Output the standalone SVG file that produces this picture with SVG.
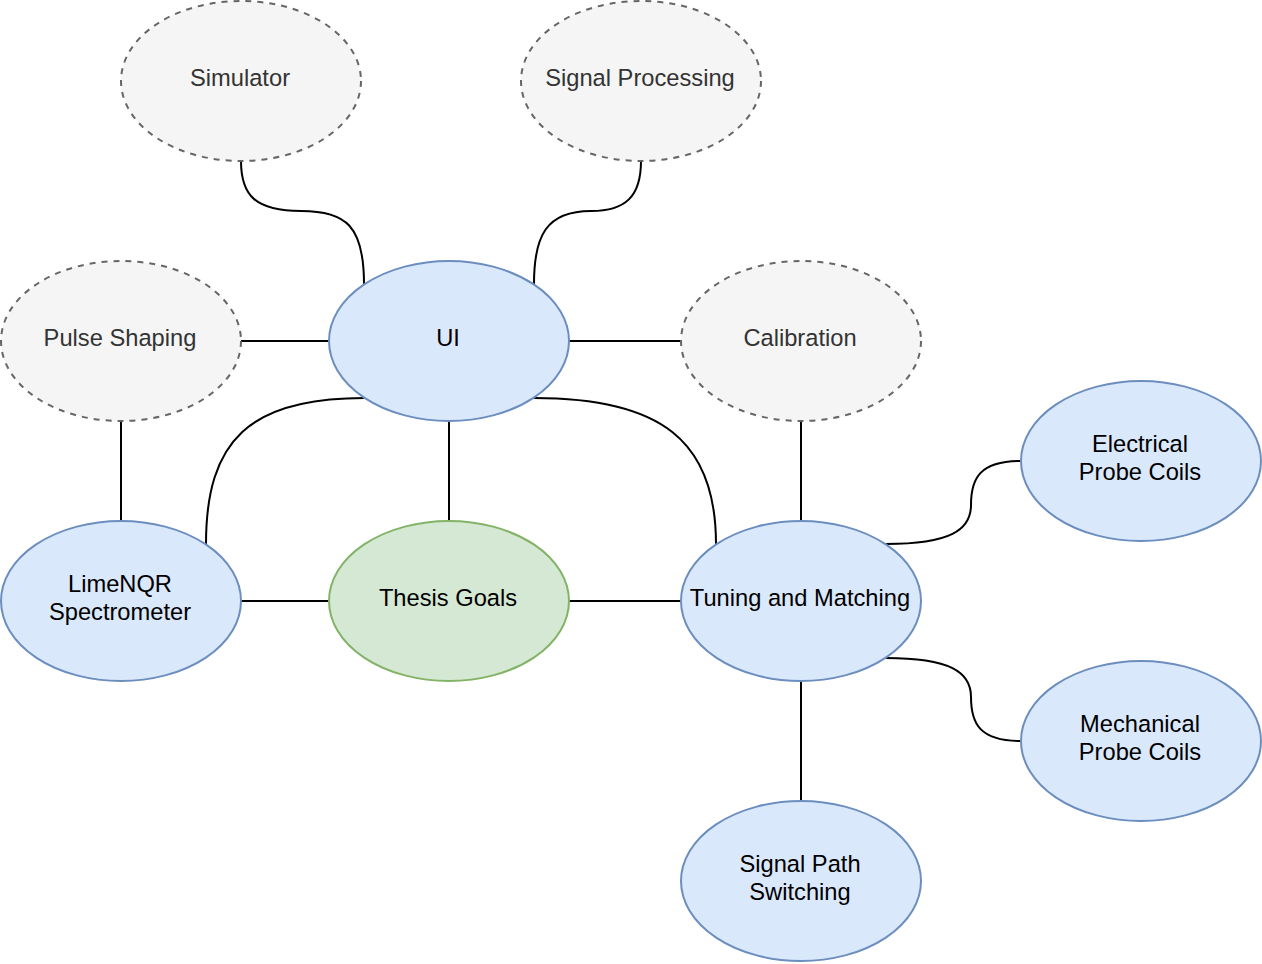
<svg xmlns="http://www.w3.org/2000/svg" width="1262" height="964" viewBox="0 0 1262 964">
<style>
.b{fill:#dae8fc;stroke:#6c8ebf;stroke-width:2}
.g{fill:#d5e8d4;stroke:#82b366;stroke-width:2}
.d{fill:#f5f5f5;stroke:#666666;stroke-width:2;stroke-dasharray:6 6}
text{font-family:"Liberation Sans",Arial,sans-serif;font-size:23.7px;text-anchor:middle;fill:#000000}
.t{fill:#333333}
.e{fill:none;stroke:#000000;stroke-width:2}
</style>
<rect width="1262" height="964" fill="#ffffff"/>
<g id="connectors">
<path class="e" d="M241 161 C241 196 256 211 301 211 C346 211 364 226 364 284"/>
<path class="e" d="M641 161 C641 196 626 211 591 211 C546 211 534 236 534 284"/>
<path class="e" d="M241 341 L329 341"/>
<path class="e" d="M569 341 L681 341"/>
<path class="e" d="M121 421 L121 521"/>
<path class="e" d="M449 421 L449 521"/>
<path class="e" d="M801 421 L801 521"/>
<path class="e" d="M364 398 C250 398 206 440 206 544"/>
<path class="e" d="M534 398 C660 398 716 440 716 544"/>
<path class="e" d="M241 601 L329 601"/>
<path class="e" d="M569 601 L681 601"/>
<path class="e" d="M886 544 C950 544 971 530 971 505 C971 478 980 461 1021 461"/>
<path class="e" d="M886 658 C950 658 971 672 971 697 C971 724 980 741 1021 741"/>
<path class="e" d="M801 681 L801 801"/>
</g>
<g id="simulator"><ellipse class="d" cx="241" cy="81" rx="120" ry="80"/><text class="t" x="240" y="85.5">Simulator</text></g>
<g id="signal-processing"><ellipse class="d" cx="641" cy="81" rx="120" ry="80"/><text class="t" x="640" y="85.5">Signal Processing</text></g>
<g id="pulse-shaping"><ellipse class="d" cx="121" cy="341" rx="120" ry="80"/><text class="t" x="120" y="345.5">Pulse Shaping</text></g>
<g id="ui"><ellipse class="b" cx="449" cy="341" rx="120" ry="80"/><text x="448" y="345.5">UI</text></g>
<g id="calibration"><ellipse class="d" cx="801" cy="341" rx="120" ry="80"/><text class="t" x="800" y="345.5">Calibration</text></g>
<g id="electrical-probe-coils"><ellipse class="b" cx="1141" cy="461" rx="120" ry="80"/><text x="1140" y="451.5">Electrical</text><text x="1140" y="479.5">Probe Coils</text></g>
<g id="limenqr"><ellipse class="b" cx="121" cy="601" rx="120" ry="80"/><text x="120" y="591.5">LimeNQR</text><text x="120" y="619.5">Spectrometer</text></g>
<g id="thesis-goals"><ellipse class="g" cx="449" cy="601" rx="120" ry="80"/><text x="448" y="605.5">Thesis Goals</text></g>
<g id="tuning-matching"><ellipse class="b" cx="801" cy="601" rx="120" ry="80"/><text x="800" y="605.5">Tuning and Matching</text></g>
<g id="mechanical-probe-coils"><ellipse class="b" cx="1141" cy="741" rx="120" ry="80"/><text x="1140" y="731.5">Mechanical</text><text x="1140" y="759.5">Probe Coils</text></g>
<g id="signal-path-switching"><ellipse class="b" cx="801" cy="881" rx="120" ry="80"/><text x="800" y="871.5">Signal Path</text><text x="800" y="899.5">Switching</text></g>
</svg>
